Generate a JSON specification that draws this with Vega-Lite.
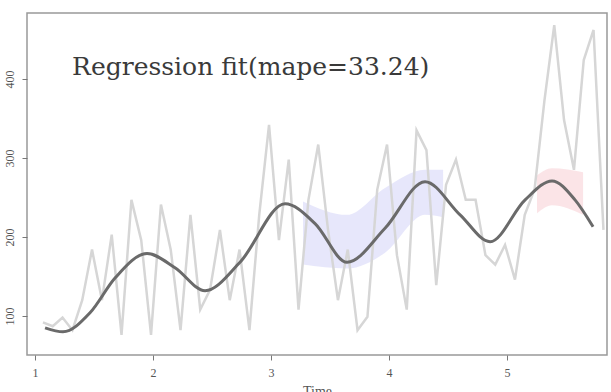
{
  "$schema": "https://vega.github.io/schema/vega-lite/v6.json",
  "width": 580,
  "height": 342,
  "autosize": {"type": "none"},
  "padding": {"left": 27, "top": 13, "right": 4, "bottom": 37},
  "background": "white",
  "title": {"text": "Forecasting", "font": "Liberation Serif", "fontSize": 16, "fontWeight": "normal", "color": "#222", "offset": 11, "baseline": "alphabetic", "anchor": "middle"},
  "config": {
    "view": {"stroke": "#999", "strokeWidth": 1.5},
    "font": "Liberation Serif"
  },
  "datasets": {
    "raw": [
      {"t": 1.067, "v": 92}, {"t": 1.150, "v": 87}, {"t": 1.233, "v": 98}, {"t": 1.317, "v": 82},
      {"t": 1.400, "v": 120}, {"t": 1.483, "v": 184}, {"t": 1.567, "v": 120}, {"t": 1.650, "v": 203},
      {"t": 1.733, "v": 76}, {"t": 1.817, "v": 247}, {"t": 1.900, "v": 196}, {"t": 1.983, "v": 76},
      {"t": 2.067, "v": 241}, {"t": 2.150, "v": 184}, {"t": 2.233, "v": 82}, {"t": 2.317, "v": 228},
      {"t": 2.400, "v": 108}, {"t": 2.483, "v": 133}, {"t": 2.567, "v": 209}, {"t": 2.650, "v": 120},
      {"t": 2.733, "v": 184}, {"t": 2.817, "v": 82}, {"t": 2.900, "v": 228}, {"t": 2.983, "v": 342},
      {"t": 3.067, "v": 196}, {"t": 3.150, "v": 298}, {"t": 3.233, "v": 108}, {"t": 3.317, "v": 247},
      {"t": 3.400, "v": 317}, {"t": 3.483, "v": 209}, {"t": 3.567, "v": 120}, {"t": 3.650, "v": 184},
      {"t": 3.733, "v": 82}, {"t": 3.817, "v": 99}, {"t": 3.900, "v": 260}, {"t": 3.983, "v": 317},
      {"t": 4.067, "v": 177}, {"t": 4.150, "v": 108}, {"t": 4.233, "v": 335}, {"t": 4.317, "v": 310},
      {"t": 4.400, "v": 139}, {"t": 4.483, "v": 266}, {"t": 4.567, "v": 298}, {"t": 4.650, "v": 247},
      {"t": 4.733, "v": 247}, {"t": 4.817, "v": 177}, {"t": 4.900, "v": 165}, {"t": 4.983, "v": 190},
      {"t": 5.067, "v": 146}, {"t": 5.150, "v": 228}, {"t": 5.233, "v": 260}, {"t": 5.317, "v": 373},
      {"t": 5.400, "v": 468}, {"t": 5.483, "v": 348}, {"t": 5.567, "v": 285}, {"t": 5.650, "v": 424},
      {"t": 5.733, "v": 462}, {"t": 5.817, "v": 209}
    ],
    "fit": [
      {"t": 1.085, "v": 85}, {"t": 1.237, "v": 80}, {"t": 1.466, "v": 104}, {"t": 1.678, "v": 148},
      {"t": 1.949, "v": 179}, {"t": 2.186, "v": 161}, {"t": 2.441, "v": 132}, {"t": 2.737, "v": 168},
      {"t": 3.119, "v": 242}, {"t": 3.373, "v": 217}, {"t": 3.644, "v": 168}, {"t": 3.966, "v": 211},
      {"t": 4.305, "v": 270}, {"t": 4.602, "v": 228}, {"t": 4.856, "v": 194}, {"t": 5.153, "v": 247},
      {"t": 5.381, "v": 271}, {"t": 5.576, "v": 247}, {"t": 5.729, "v": 213}
    ],
    "band": [
      {"seg": "a", "t": 3.271, "lo": 165, "hi": 245},
      {"seg": "a", "t": 3.644, "lo": 160, "hi": 228},
      {"seg": "a", "t": 3.966, "lo": 180, "hi": 262},
      {"seg": "a", "t": 4.305, "lo": 228, "hi": 285},
      {"seg": "a", "t": 4.458, "lo": 225, "hi": 285},
      {"seg": "b", "t": 5.254, "lo": 230, "hi": 278},
      {"seg": "b", "t": 5.381, "lo": 240, "hi": 287},
      {"seg": "b", "t": 5.644, "lo": 228, "hi": 282}
    ],
    "label": [
      {"t": 1.314, "v": 405, "text": "Regression fit(mape=33.24)"}
    ]
  },
  "layer": [
    {
      "data": {"name": "band"},
      "mark": {"type": "area", "opacity": 0.5, "interpolate": "monotone"},
      "encoding": {
        "x": {"field": "t", "type": "quantitative", "scale": {"domain": [0.932, 5.847], "nice": false, "zero": false},
              "axis": {"values": [1, 2, 3, 4, 5], "format": "d", "title": "Time", "grid": false, "domain": false, "tickColor": "#777", "tickSize": 5, "labelPadding": 7, "labelFontSize": 12, "labelColor": "#555", "titleFont": "Liberation Serif", "titleFontSize": 14, "titleFontWeight": "normal", "titleColor": "#555", "titlePadding": 6, "labelFont": "Liberation Serif"}},
        "y": {"field": "lo", "type": "quantitative", "scale": {"domain": [50.6, 483.5], "nice": false, "zero": false},
              "axis": {"values": [100, 200, 300, 400], "title": null, "grid": false, "domain": false, "tickColor": "#777", "tickSize": 5, "labelAngle": -90, "labelAlign": "center", "labelBaseline": "bottom", "labelPadding": 6, "labelFontSize": 12, "labelColor": "#555", "labelFont": "Liberation Serif"}},
        "y2": {"field": "hi"},
        "detail": {"field": "seg"},
        "color": {"field": "seg", "type": "nominal", "scale": {"domain": ["a", "b"], "range": ["#cfcff7", "#f8c9cf"]}, "legend": null}
      }
    },
    {
      "data": {"name": "raw"},
      "mark": {"type": "line", "color": "#d6d6d6", "strokeWidth": 2.5},
      "encoding": {
        "x": {"field": "t", "type": "quantitative", "scale": {"domain": [0.932, 5.847], "nice": false, "zero": false}},
        "y": {"field": "v", "type": "quantitative", "scale": {"domain": [50.6, 483.5], "nice": false, "zero": false}}
      }
    },
    {
      "data": {"name": "fit"},
      "mark": {"type": "line", "color": "#6a6a6a", "strokeWidth": 3, "interpolate": "monotone"},
      "encoding": {
        "x": {"field": "t", "type": "quantitative", "scale": {"domain": [0.932, 5.847], "nice": false, "zero": false}},
        "y": {"field": "v", "type": "quantitative", "scale": {"domain": [50.6, 483.5], "nice": false, "zero": false}}
      }
    },
    {
      "data": {"name": "label"},
      "mark": {"type": "text", "align": "left", "baseline": "alphabetic", "font": "DejaVu Serif", "fontSize": 25, "color": "#3a3a3a"},
      "encoding": {
        "x": {"field": "t", "type": "quantitative", "scale": {"domain": [0.932, 5.847], "nice": false, "zero": false}},
        "y": {"field": "v", "type": "quantitative", "scale": {"domain": [50.6, 483.5], "nice": false, "zero": false}},
        "text": {"field": "text"}
      }
    }
  ]
}
